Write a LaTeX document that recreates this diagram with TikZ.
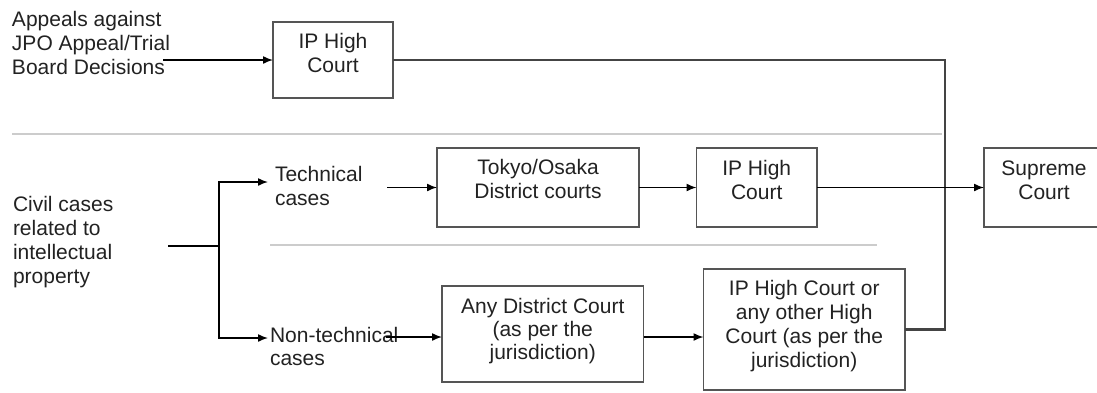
\documentclass[tikz,border=0pt]{standalone}
\usepackage{fontspec}
\setmainfont{Liberation Sans}
\usetikzlibrary{arrows.meta}
\definecolor{txtc}{HTML}{222222}
\definecolor{boxc}{HTML}{555555}
\definecolor{sepc}{HTML}{CCCCCC}
\definecolor{linec}{HTML}{444444}
\tikzset{
  courtbox/.style={draw=boxc, line width=1.6pt, rectangle, inner sep=0pt, outer sep=0pt},
  lbl/.style={text=txtc, font=\fontsize{21}{24}\selectfont, inner sep=0pt, outer sep=0pt},
  lbll/.style={lbl, align=left, anchor=base west},
  lblc/.style={lbl, align=center, anchor=base},
  conn/.style={draw=black, line width=1.5pt, -{Latex[length=10pt,width=8pt]}},
  plainconn/.style={draw=black, line width=1.5pt},
  heavy/.style={draw=linec, line width=2.6pt, line join=miter},
  sepline/.style={draw=sepc, line width=2pt}
}
\begin{document}
\begin{tikzpicture}[x=1pt,y=-1pt]
\useasboundingbox (0,0) rectangle (1097,392);
\clip (0,0) rectangle (1097,392);
\fill[white] (0,0) rectangle (1097,392);

% separators
\draw[sepline] (12,134) -- (942,134);
\draw[sepline] (270,245) -- (877,245);

% boxes
\node[courtbox, minimum width=120, minimum height=76] (ip1) at (333,60) {};
\node[courtbox, minimum width=202, minimum height=79] (tokyo) at (538,187.5) {};
\node[courtbox, minimum width=120.5, minimum height=79] (ip2) at (756.75,187.5) {};
\node[courtbox, minimum width=120, minimum height=79] (sup) at (1044,187.5) {};
\node[courtbox, minimum width=201.5, minimum height=96] (anyd) at (542.75,334) {};
\node[courtbox, minimum width=201.5, minimum height=121] (iphc) at (804.25,329.5) {};

% box texts (anchor = baseline of the last line)
\node[lblc] (ip1t) at (333,72) {IP High\\Court};
\node[lblc] (tokyot) at (538,198.5) {Tokyo/Osaka\\District courts};
\node[lblc] (ip2t) at (756.75,199) {IP High\\Court};
\node[lblc] (supt) at (1044,199) {Supreme\\Court};
\node[lblc, font=\fontsize{21}{23}\selectfont] (anydt) at (542.75,359) {Any District Court\\(as per the\\jurisdiction)};
\node[lblc] (iphct) at (804.25,367) {IP High Court or\\any other High\\Court (as per the\\jurisdiction)};

% free labels
\node[lbll, font=\fontsize{21}{23.7}\selectfont] (appeals) at (12,74) {Appeals against\\JPO Appeal/Trial\\Board Decisions};
\node[lbll, font=\fontsize{21}{23.7}\selectfont] (civil) at (13,283) {Civil cases\\related to\\intellectual\\property};
\node[lbll] (tech) at (275,205) {Technical\\cases};
\node[lbll, font=\fontsize{21}{23}\selectfont] (nontech) at (270,365) {Non-technical\\cases};

% coordinates for free ends
\coordinate (appEnd) at (163,60);
\coordinate (civEnd) at (168,246);
\coordinate (fork) at (219,246);
\coordinate (techTip) at (268,182);
\coordinate (nontechTip) at (268,338);
\coordinate (techEnd) at (387,187.5);
\coordinate (nontechEnd) at (386,337);
\coordinate (joinTop) at (945,60);
\coordinate (joinBot) at (945,329.5);

% connectors
\draw[conn] (appEnd) -- (ip1.west);
\draw[heavy] (ip1.east) -- (joinTop) -- (joinBot) -- (iphc.east);
\draw[plainconn] (civEnd) -- (fork);
\draw[conn] (fork) |- (techTip);
\draw[conn] (fork) |- (nontechTip);
\draw[conn] (techEnd) -- (tokyo.west);
\draw[conn] (tokyo.east) -- (ip2.west);
\draw[conn] (ip2.east) -- (sup.west);
\draw[conn] (nontechEnd) -- (nontechEnd -| anyd.west);
\draw[conn] ([yshift=-3]anyd.east) -- ([yshift=-3]anyd.east -| iphc.west);
\end{tikzpicture}
\end{document}
